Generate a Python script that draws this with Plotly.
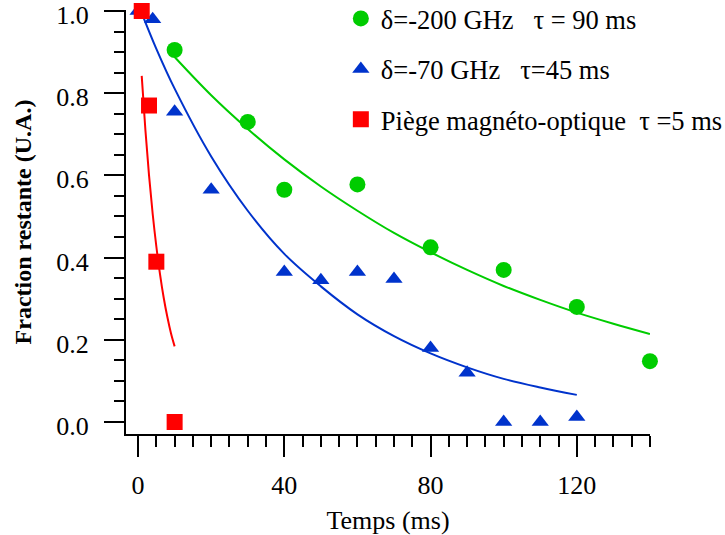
import plotly.graph_objects as go

t_green = [10, 30, 40, 60, 80, 100, 120, 140]
y_green = [0.905, 0.73, 0.565, 0.578, 0.425, 0.37, 0.28, 0.148]

t_blue = [0, 4, 10, 20, 40, 50, 60, 70, 80, 90, 100, 110, 120]
y_blue = [1.0, 0.98, 0.755, 0.565, 0.365, 0.345, 0.365, 0.348, 0.18, 0.12, 0.0, 0.0, 0.012]

t_red = [1, 3, 5, 10]
y_red = [1.0, 0.77, 0.39, 0.0]

# Fit curves
fit_t_green = [10, 20, 30, 40, 50, 60, 70, 80, 90, 100, 110, 120, 130, 140]
fit_y_green = [0.888, 0.795, 0.713, 0.639, 0.573, 0.514, 0.460, 0.413, 0.370, 0.331, 0.297, 0.266, 0.239, 0.214]

fit_t_blue = [1, 5, 10, 20, 30, 40, 50, 60, 70, 80, 90, 100, 110, 120]
fit_y_blue = [0.995, 0.908, 0.811, 0.646, 0.514, 0.409, 0.330, 0.262, 0.209, 0.167, 0.133, 0.105, 0.084, 0.066]

fit_t_red = [1, 2, 3, 4, 5, 6, 7, 8, 9, 10]
fit_y_red = [0.842, 0.711, 0.600, 0.506, 0.427, 0.360, 0.303, 0.256, 0.216, 0.184]

labels = ["δ=-200 GHz\u00a0\u00a0\u00a0τ = 90 ms",
          "δ=-70 GHz\u00a0\u00a0\u00a0τ=45 ms",
          "Piège magnéto-optique\u00a0\u00a0τ =5 ms"]

GREEN = "#00CC00"
BLUE = "#0033CC"
RED = "#FF0000"

fig = go.Figure()

fig.add_trace(go.Scatter(x=fit_t_green, y=fit_y_green, mode="lines", line=dict(color=GREEN, width=2, shape="spline"),
                         showlegend=False, hoverinfo="skip", cliponaxis=False))
fig.add_trace(go.Scatter(x=fit_t_blue, y=fit_y_blue, mode="lines", line=dict(color=BLUE, width=2, shape="spline"),
                         showlegend=False, hoverinfo="skip", cliponaxis=False))
fig.add_trace(go.Scatter(x=fit_t_red, y=fit_y_red, mode="lines", line=dict(color=RED, width=2, shape="spline"),
                         showlegend=False, hoverinfo="skip", cliponaxis=False))

fig.add_trace(go.Scatter(x=t_green, y=y_green, mode="markers", name=labels[0], legendgroup="g",
                         marker=dict(symbol="circle", size=16, color=GREEN), cliponaxis=False))
fig.add_trace(go.Scatter(x=t_blue, y=y_blue, mode="markers", name=labels[1], legendgroup="b",
                         marker=dict(symbol="triangle-up", size=15, color=BLUE), cliponaxis=False))
fig.add_trace(go.Scatter(x=t_red, y=y_red, mode="markers", name=labels[2], legendgroup="r",
                         marker=dict(symbol="square", size=16, color=RED), cliponaxis=False))

axis_font = dict(family="Liberation Serif, Times New Roman, serif", size=26, color="black")

fig.update_layout(
    width=725, height=535,
    margin=dict(l=126, r=75, t=10, b=101, autoexpand=False),
    paper_bgcolor="white", plot_bgcolor="white",
    font=axis_font,
    showlegend=True,
    legend=dict(x=0.41, xanchor="left", y=1.036, yanchor="top",
                font=dict(family="Liberation Serif, Times New Roman, serif", size=26.5, color="black"),
                bgcolor="rgba(0,0,0,0)", traceorder="grouped", tracegroupgap=13, itemsizing="trace"),
    xaxis=dict(range=[-3.3, 140.02], showgrid=False, zeroline=False, automargin=False,
               showline=True, linewidth=2, linecolor="black",
               ticks="outside", tickmode="linear", tick0=0, dtick=40, ticklen=21, tickwidth=2, tickcolor="black",
               ticklabelstandoff=6, ticklabeloverflow="allow",
               minor=dict(ticks="outside", dtick=5, tick0=0, ticklen=11, tickwidth=2, tickcolor="black", showgrid=False),
               tickfont=axis_font,
               title=dict(text="Temps (ms)", font=axis_font, standoff=12)),
    yaxis=dict(range=[-0.0292, 1.0024], showgrid=False, zeroline=False, automargin=False,
               showline=True, linewidth=2, linecolor="black",
               ticks="outside", tickmode="linear", tick0=0, dtick=0.2, ticklen=20, tickwidth=2, tickcolor="black",
               tickformat=".1f", ticklabelstandoff=10, ticklabelshift=4, ticklabeloverflow="allow",
               minor=dict(ticks="outside", dtick=0.05, tick0=0, ticklen=10, tickwidth=2, tickcolor="black", showgrid=False),
               tickfont=axis_font,
               title=dict(text="<b>Fraction restante (U.A.)</b>",
                          font=dict(family="Liberation Serif, Times New Roman, serif", size=24, color="black"),
                          standoff=18)),
)

fig.write_html("out.html", config={"displayModeBar": False},
               post_script="document.body.style.margin='0px';document.body.style.padding='0px';")
